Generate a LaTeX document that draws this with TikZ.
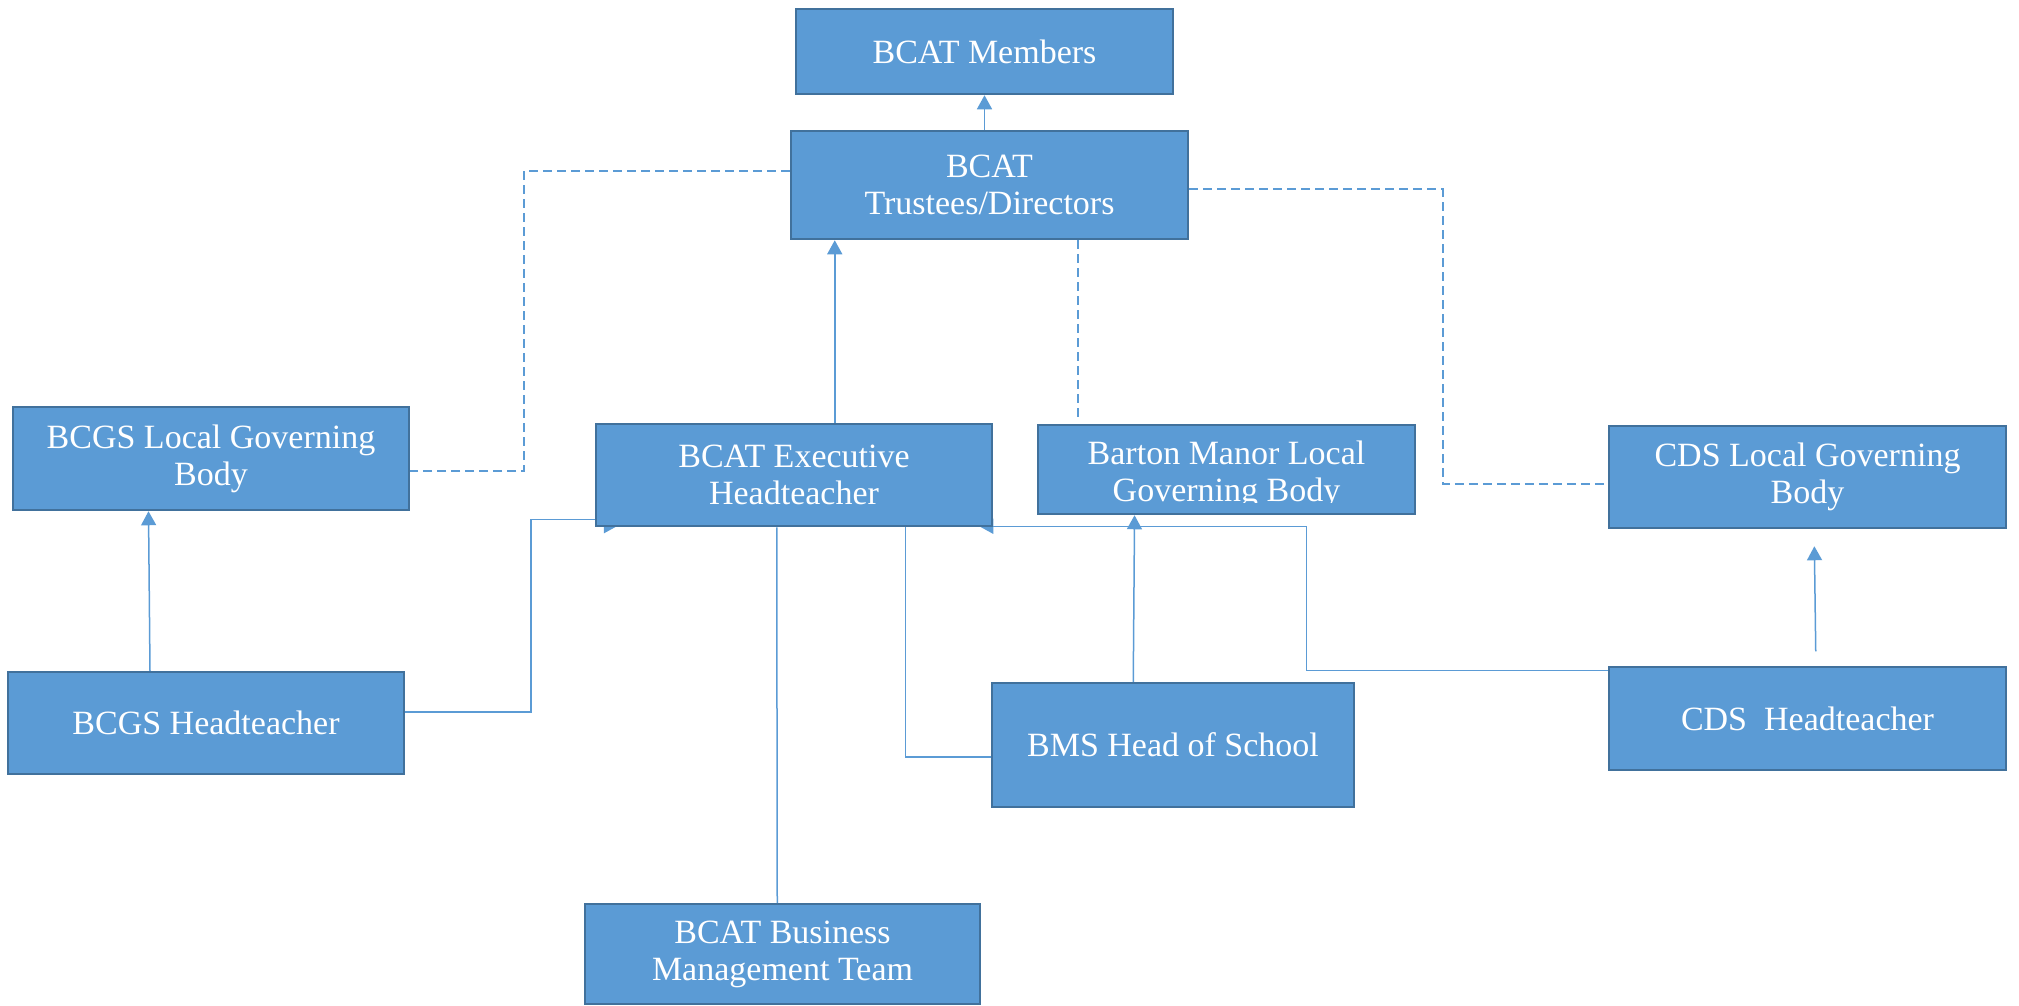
\documentclass[tikz,border=0pt]{standalone}
\usepackage{fontspec}
\setmainfont{Liberation Serif}
\usetikzlibrary{arrows.meta,calc,backgrounds}
\definecolor{boxfill}{HTML}{5B9BD5}
\definecolor{boxline}{HTML}{41719C}
\definecolor{connc}{HTML}{5B9BD5}
\begin{document}
\begin{tikzpicture}[x=1pt,y=-1pt,
  boxfont/.style={font=\fontsize{34}{37}\selectfont},
  orgbox/.style={draw=boxline, fill=boxfill, line width=2.5pt, text=white, align=center, inner sep=0pt, boxfont},
  conn/.style={draw=connc, line width=1.5pt},
  dconn/.style={draw=connc, line width=2pt, dash pattern=on 9pt off 5pt},
  arr/.style={-{Triangle[length=14pt,width=15pt]}}]
\useasboundingbox (0,0) rectangle (2019,1005);

% boxes
\node[orgbox, minimum width=377pt, minimum height=85pt] (members) at (984.5,51.5) {BCAT Members};
\node[orgbox, minimum width=397pt, minimum height=108pt] (trustees) at (989.5,185) {BCAT\\Trustees/Directors};
\node[orgbox, minimum width=396pt, minimum height=103pt] (bcgslgb) at (211,458.5) {BCGS Local Governing\\Body};
\node[orgbox, minimum width=396pt, minimum height=102pt] (exec) at (794,475) {BCAT Executive\\Headteacher};
\node[orgbox, minimum width=377pt, minimum height=89pt] (barton) at (1226.5,469.5) {};
\begin{scope}
  \clip (1038,425) rectangle (1415,502);
  \node[text=white, align=center, inner sep=0pt, boxfont] (bartontext) at (1226.5,475) {Barton Manor Local\\Governing Body};
\end{scope}
\node[orgbox, minimum width=397pt, minimum height=102pt] (cdslgb) at (1807.5,477) {CDS Local Governing\\Body};
\node[orgbox, minimum width=397pt, minimum height=103pt] (cdsht) at (1807.5,718.5) {CDS\ \ Headteacher};
\node[orgbox, minimum width=362pt, minimum height=124pt] (bms) at (1173,745) {BMS Head of School};
\node[orgbox, minimum width=396pt, minimum height=102pt] (bcgsht) at (206,723) {BCGS Headteacher};
\node[orgbox, minimum width=395pt, minimum height=100pt] (business) at (782.5,954) {BCAT Business\\Management Team};

% connectors
\begin{scope}[on background layer]
\draw[conn,arr] (trustees.north -| members.south) -- (members.south);
\draw[conn,arr] ($(exec.north west)+(240,0)$) -- ($(trustees.south west)+(45,0)$);
\draw[dconn] ($(trustees.north west)+(0,41)$) -| ($(bcgslgb.east)+(114,12.5)$) -- ($(bcgslgb.east)+(0,12.5)$);
\draw[dconn] ($(trustees.south west)+(288.6,0)$) -- ($(barton.north west)+(41.6,-7)$);
\draw[dconn] ($(trustees.north east)+(0,59.6)$) -| ($(cdslgb.west)+(-165.2,6.7)$) -- ($(cdslgb.west)+(0,6.7)$);
\draw[conn,arr] ($(bcgsht.north)+(-56,0)$) -- ($(bcgslgb.south)+(-62.5,0)$);
\draw[conn,arr] ($(bcgsht.east)+(0,-11)$) -| ($(exec.south west)+(-64,-8)$) -- ($(exec.south west)+(4,-8)$) -- ($(exec.south west)+(4,-1.5)$) -- ($(exec.south west)+(23,-1.5)$);
\draw[conn] ($(exec.south west)+(182,0)$) -- ($(business.north west)+(193.5,0)$);
\draw[conn] ($(bms.west)+(0,12)$) -| ($(exec.south west)+(310.6,0)$);
\draw[conn,arr] ($(bms.north west)+(142.5,0)$) -- ($(barton.south west)+(97.8,0)$);
\draw[conn,arr] ($(cdsht.north west)+(0,4.7)$) -| ($(exec.south east)+(313.4,-1)$) -- ($(exec.south east)+(-14,-1)$);
\draw[conn,arr] ($(cdsht.north west)+(208,-14.3)$) -- ($(cdslgb.south west)+(206.6,17)$);
\end{scope}
\end{tikzpicture}
\end{document}
